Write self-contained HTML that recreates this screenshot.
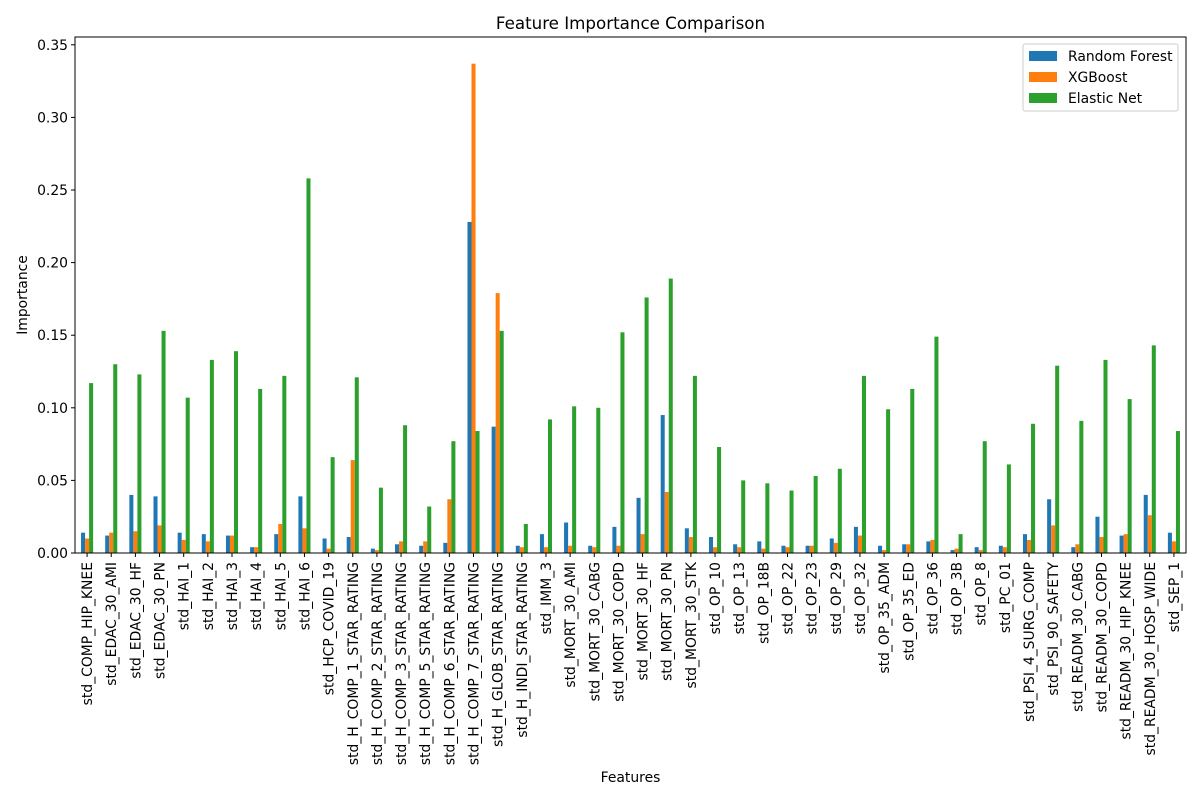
<!DOCTYPE html>
<html><head><meta charset="utf-8"><style>
body{margin:0;background:#fff;}
svg{display:block;font-family:"DejaVu Sans","Liberation Sans",sans-serif;}
</style></head><body>
<svg id="chart" width="1200" height="800" xmlns="http://www.w3.org/2000/svg"></svg>
<script>
const categories=["std_COMP_HIP_KNEE","std_EDAC_30_AMI","std_EDAC_30_HF","std_EDAC_30_PN","std_HAI_1","std_HAI_2","std_HAI_3","std_HAI_4","std_HAI_5","std_HAI_6","std_HCP_COVID_19","std_H_COMP_1_STAR_RATING","std_H_COMP_2_STAR_RATING","std_H_COMP_3_STAR_RATING","std_H_COMP_5_STAR_RATING","std_H_COMP_6_STAR_RATING","std_H_COMP_7_STAR_RATING","std_H_GLOB_STAR_RATING","std_H_INDI_STAR_RATING","std_IMM_3","std_MORT_30_AMI","std_MORT_30_CABG","std_MORT_30_COPD","std_MORT_30_HF","std_MORT_30_PN","std_MORT_30_STK","std_OP_10","std_OP_13","std_OP_18B","std_OP_22","std_OP_23","std_OP_29","std_OP_32","std_OP_35_ADM","std_OP_35_ED","std_OP_36","std_OP_3B","std_OP_8","std_PC_01","std_PSI_4_SURG_COMP","std_PSI_90_SAFETY","std_READM_30_CABG","std_READM_30_COPD","std_READM_30_HIP_KNEE","std_READM_30_HOSP_WIDE","std_SEP_1"];
const randomForest=[0.014,0.012,0.040,0.039,0.014,0.013,0.012,0.004,0.013,0.039,0.010,0.011,0.003,0.006,0.005,0.007,0.228,0.087,0.005,0.013,0.021,0.005,0.018,0.038,0.095,0.017,0.011,0.006,0.008,0.005,0.005,0.010,0.018,0.005,0.006,0.008,0.002,0.004,0.005,0.013,0.037,0.004,0.025,0.012,0.040,0.014];
const xgboost=[0.010,0.014,0.015,0.019,0.009,0.008,0.012,0.004,0.020,0.017,0.003,0.064,0.002,0.008,0.008,0.037,0.337,0.179,0.004,0.004,0.005,0.004,0.005,0.013,0.042,0.011,0.004,0.004,0.003,0.004,0.005,0.007,0.012,0.002,0.006,0.009,0.003,0.002,0.004,0.009,0.019,0.006,0.011,0.013,0.026,0.008];
const elasticNet=[0.117,0.130,0.123,0.153,0.107,0.133,0.139,0.113,0.122,0.258,0.066,0.121,0.045,0.088,0.032,0.077,0.084,0.153,0.020,0.092,0.101,0.100,0.152,0.176,0.189,0.122,0.073,0.050,0.048,0.043,0.053,0.058,0.122,0.099,0.113,0.149,0.013,0.077,0.061,0.089,0.129,0.091,0.133,0.106,0.143,0.084];
const yTicks=[0,0.05,0.10,0.15,0.20,0.25,0.30,0.35];
const yTickLabels=["0.00","0.05","0.10","0.15","0.20","0.25","0.30","0.35"];
const seriesNames=["Random Forest","XGBoost","Elastic Net"];

const NS="http://www.w3.org/2000/svg";
const svg=document.getElementById('chart');
const L=75,R=1186,T=37,B=553;
const FS=13.9;
const step=(R-L)/categories.length;
const x=i=>L+step*(i+0.5);
const y=v=>B-v*(72.6/0.05);
function mk(tag,attrs,parent){const e=document.createElementNS(NS,tag);for(const k in attrs)e.setAttribute(k,attrs[k]);(parent||svg).appendChild(e);return e;}
const colors=["#1f77b4","#ff7f0e","#2ca02c"];
const series=[randomForest,xgboost,elasticNet];
const bw=step/6;
series.forEach((s,si)=>{
  s.forEach((v,i)=>{
    const r=mk('rect',{x:x(i)-step/4+si*bw,y:y(v),width:bw,height:B-y(v),fill:colors[si]});
    
    
  });
});
const frame=mk('rect',{x:L,y:T,width:R-L,height:B-T,fill:'none',stroke:'#000','stroke-width':1});


yTicks.forEach((t,i)=>{
  mk('line',{x1:L-4,x2:L,y1:y(t),y2:y(t),stroke:'#000'});
  const tx=mk('text',{x:L-7,y:y(t)+5,'text-anchor':'end','font-size':FS});
  tx.textContent=yTickLabels[i];
  
  
});
categories.forEach((c,i)=>{
  mk('line',{x1:x(i),x2:x(i),y1:B,y2:B+4,stroke:'#000'});
  const tx=mk('text',{transform:`translate(${x(i)+5},${B+9}) rotate(-90)`,'text-anchor':'end','font-size':FS});
  tx.textContent=c;
  
  
});
const title=mk('text',{x:(L+R)/2,y:29,'text-anchor':'middle','font-size':16.7});
title.textContent='Feature Importance Comparison';


const xl=mk('text',{x:(L+R)/2,y:782,'text-anchor':'middle','font-size':FS});
xl.textContent='Features';


const yl=mk('text',{transform:'translate(27,295) rotate(-90)','text-anchor':'middle','font-size':FS});
yl.textContent='Importance';


const lg=mk('g',{});


mk('rect',{x:1023,y:44,width:155,height:67,rx:2,fill:'#fff',stroke:'#ccc'},lg);
seriesNames.forEach((n,i)=>{
  const p=mk('rect',{x:1029,y:51+i*21,width:28,height:10,fill:colors[i]},lg);
  
  
  const t=mk('text',{x:1068,y:61+i*21,'font-size':FS},lg);
  t.textContent=n;
  
  
});
</script>
</body></html>
